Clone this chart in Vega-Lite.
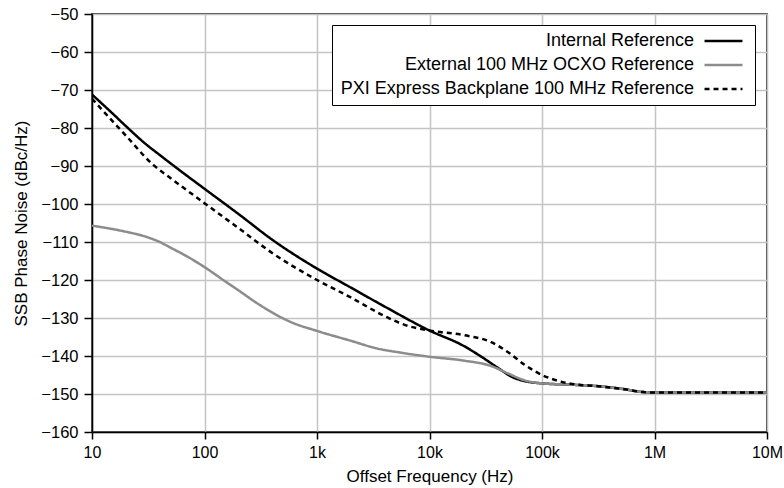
{
  "$schema": "https://vega.github.io/schema/vega-lite/v6.json",
  "autosize": "none",
  "width": 675,
  "height": 418,
  "padding": {"left": 92, "top": 14, "right": 17, "bottom": 56},
  "background": "white",
  "config": {
    "font": "Liberation Sans",
    "view": {"stroke": "black", "strokeWidth": 1.5},
    "axis": {
      "domainColor": "black",
      "domainWidth": 1.5,
      "tickColor": "black",
      "tickWidth": 1.5,
      "tickSize": 7,
      "gridColor": "#c4c4c4",
      "gridWidth": 1.5,
      "labelFont": "Liberation Sans",
      "labelFontSize": 16,
      "labelColor": "black",
      "titleFont": "Liberation Sans",
      "titleFontSize": 17,
      "titleFontWeight": "normal",
      "titleColor": "black"
    },
    "legend": {
      "labelFont": "Liberation Sans",
      "labelFontSize": 18,
      "labelColor": "black",
      "labelLimit": 500
    }
  },
  "data": {
    "values": [
      {"f": 10, "v": -71.2, "s": "Internal Reference"},
      {"f": 15, "v": -76.0, "s": "Internal Reference"},
      {"f": 20, "v": -79.5, "s": "Internal Reference"},
      {"f": 30, "v": -84.2, "s": "Internal Reference"},
      {"f": 40, "v": -87.1, "s": "Internal Reference"},
      {"f": 60, "v": -91.1, "s": "Internal Reference"},
      {"f": 100, "v": -96.0, "s": "Internal Reference"},
      {"f": 200, "v": -102.6, "s": "Internal Reference"},
      {"f": 400, "v": -109.4, "s": "Internal Reference"},
      {"f": 1000, "v": -117.0, "s": "Internal Reference"},
      {"f": 2000, "v": -122.0, "s": "Internal Reference"},
      {"f": 4000, "v": -127.0, "s": "Internal Reference"},
      {"f": 10000, "v": -133.3, "s": "Internal Reference"},
      {"f": 20000, "v": -137.3, "s": "Internal Reference"},
      {"f": 30000, "v": -140.5, "s": "Internal Reference"},
      {"f": 40000, "v": -143.0, "s": "Internal Reference"},
      {"f": 55000, "v": -145.6, "s": "Internal Reference"},
      {"f": 70000, "v": -146.6, "s": "Internal Reference"},
      {"f": 100000, "v": -147.2, "s": "Internal Reference"},
      {"f": 200000, "v": -147.6, "s": "Internal Reference"},
      {"f": 300000, "v": -147.9, "s": "Internal Reference"},
      {"f": 500000, "v": -148.6, "s": "Internal Reference"},
      {"f": 800000, "v": -149.5, "s": "Internal Reference"},
      {"f": 1000000, "v": -149.6, "s": "Internal Reference"},
      {"f": 10000000, "v": -149.6, "s": "Internal Reference"},
      {"f": 10, "v": -105.7, "s": "External 100 MHz OCXO Reference"},
      {"f": 20, "v": -107.3, "s": "External 100 MHz OCXO Reference"},
      {"f": 30, "v": -108.6, "s": "External 100 MHz OCXO Reference"},
      {"f": 40, "v": -110.0, "s": "External 100 MHz OCXO Reference"},
      {"f": 50, "v": -111.5, "s": "External 100 MHz OCXO Reference"},
      {"f": 70, "v": -113.8, "s": "External 100 MHz OCXO Reference"},
      {"f": 100, "v": -116.6, "s": "External 100 MHz OCXO Reference"},
      {"f": 150, "v": -120.2, "s": "External 100 MHz OCXO Reference"},
      {"f": 200, "v": -122.7, "s": "External 100 MHz OCXO Reference"},
      {"f": 300, "v": -126.3, "s": "External 100 MHz OCXO Reference"},
      {"f": 600, "v": -131.2, "s": "External 100 MHz OCXO Reference"},
      {"f": 1000, "v": -133.4, "s": "External 100 MHz OCXO Reference"},
      {"f": 2000, "v": -136.0, "s": "External 100 MHz OCXO Reference"},
      {"f": 3400, "v": -138.0, "s": "External 100 MHz OCXO Reference"},
      {"f": 5500, "v": -139.1, "s": "External 100 MHz OCXO Reference"},
      {"f": 10000, "v": -140.2, "s": "External 100 MHz OCXO Reference"},
      {"f": 20000, "v": -141.2, "s": "External 100 MHz OCXO Reference"},
      {"f": 35000, "v": -142.6, "s": "External 100 MHz OCXO Reference"},
      {"f": 50000, "v": -144.6, "s": "External 100 MHz OCXO Reference"},
      {"f": 70000, "v": -146.4, "s": "External 100 MHz OCXO Reference"},
      {"f": 100000, "v": -147.2, "s": "External 100 MHz OCXO Reference"},
      {"f": 200000, "v": -147.6, "s": "External 100 MHz OCXO Reference"},
      {"f": 300000, "v": -147.9, "s": "External 100 MHz OCXO Reference"},
      {"f": 500000, "v": -148.6, "s": "External 100 MHz OCXO Reference"},
      {"f": 800000, "v": -149.5, "s": "External 100 MHz OCXO Reference"},
      {"f": 1000000, "v": -149.6, "s": "External 100 MHz OCXO Reference"},
      {"f": 10000000, "v": -149.6, "s": "External 100 MHz OCXO Reference"},
      {"f": 10, "v": -72.3, "s": "PXI Express Backplane 100 MHz Reference"},
      {"f": 15, "v": -78.0, "s": "PXI Express Backplane 100 MHz Reference"},
      {"f": 20, "v": -82.0, "s": "PXI Express Backplane 100 MHz Reference"},
      {"f": 35, "v": -89.7, "s": "PXI Express Backplane 100 MHz Reference"},
      {"f": 50, "v": -93.2, "s": "PXI Express Backplane 100 MHz Reference"},
      {"f": 100, "v": -99.8, "s": "PXI Express Backplane 100 MHz Reference"},
      {"f": 200, "v": -106.3, "s": "PXI Express Backplane 100 MHz Reference"},
      {"f": 400, "v": -112.9, "s": "PXI Express Backplane 100 MHz Reference"},
      {"f": 1000, "v": -120.0, "s": "PXI Express Backplane 100 MHz Reference"},
      {"f": 2000, "v": -124.6, "s": "PXI Express Backplane 100 MHz Reference"},
      {"f": 4000, "v": -129.5, "s": "PXI Express Backplane 100 MHz Reference"},
      {"f": 6000, "v": -131.8, "s": "PXI Express Backplane 100 MHz Reference"},
      {"f": 10000, "v": -133.3, "s": "PXI Express Backplane 100 MHz Reference"},
      {"f": 20000, "v": -134.5, "s": "PXI Express Backplane 100 MHz Reference"},
      {"f": 35000, "v": -136.3, "s": "PXI Express Backplane 100 MHz Reference"},
      {"f": 50000, "v": -139.0, "s": "PXI Express Backplane 100 MHz Reference"},
      {"f": 70000, "v": -142.3, "s": "PXI Express Backplane 100 MHz Reference"},
      {"f": 100000, "v": -145.0, "s": "PXI Express Backplane 100 MHz Reference"},
      {"f": 150000, "v": -146.8, "s": "PXI Express Backplane 100 MHz Reference"},
      {"f": 200000, "v": -147.5, "s": "PXI Express Backplane 100 MHz Reference"},
      {"f": 300000, "v": -147.9, "s": "PXI Express Backplane 100 MHz Reference"},
      {"f": 500000, "v": -148.6, "s": "PXI Express Backplane 100 MHz Reference"},
      {"f": 800000, "v": -149.5, "s": "PXI Express Backplane 100 MHz Reference"},
      {"f": 1000000, "v": -149.6, "s": "PXI Express Backplane 100 MHz Reference"},
      {"f": 10000000, "v": -149.6, "s": "PXI Express Backplane 100 MHz Reference"}
    ]
  },
  "mark": {"type": "line", "interpolate": "monotone", "strokeWidth": 2.5, "clip": true},
  "encoding": {
    "x": {
      "field": "f",
      "type": "quantitative",
      "scale": {"type": "log", "domain": [10, 10000000], "nice": false},
      "axis": {
        "title": "Offset Frequency (Hz)",
        "values": [10, 100, 1000, 10000, 100000, 1000000, 10000000],
        "labelExpr": "datum.value >= 1000000 ? (datum.value / 1000000) + 'M' : (datum.value >= 1000 ? (datum.value / 1000) + 'k' : datum.value + '')",
        "labelPadding": 5,
        "titlePadding": 8,
        "labelFlush": false
      }
    },
    "y": {
      "field": "v",
      "type": "quantitative",
      "scale": {"domain": [-160, -50], "nice": false, "zero": false},
      "axis": {
        "title": "SSB Phase Noise (dBc/Hz)",
        "values": [-160, -150, -140, -130, -120, -110, -100, -90, -80, -70, -60, -50],
        "tickSize": 8,
        "labelPadding": 6,
        "titlePadding": 10,
        "labelFontSize": 16.5,
        "labelFlush": false
      }
    },
    "color": {
      "field": "s",
      "type": "nominal",
      "scale": {
        "domain": ["Internal Reference", "External 100 MHz OCXO Reference", "PXI Express Backplane 100 MHz Reference"],
        "range": ["black", "#8c8c8c", "black"]
      },
      "legend": {
        "title": null,
        "orient": "none",
        "legendX": 240,
        "legendY": 11,
        "padding": 7,
        "strokeColor": "black",
        "fillColor": "white",
        "symbolType": "M-3,0H3",
        "symbolSize": 160,
        "symbolStrokeWidth": 2.5,
        "labelAlign": "right",
        "labelOffset": -38.5,
        "symbolOffset": 375.5,
        "rowPadding": 6
      }
    },
    "strokeDash": {
      "field": "s",
      "type": "nominal",
      "scale": {
        "domain": ["Internal Reference", "External 100 MHz OCXO Reference", "PXI Express Backplane 100 MHz Reference"],
        "range": [[1, 0], [1, 0], [5, 4]]
      },
      "legend": {
        "title": null,
        "orient": "none",
        "legendX": 240,
        "legendY": 11,
        "padding": 7,
        "strokeColor": "black",
        "fillColor": "white",
        "symbolType": "M-3,0H3",
        "symbolSize": 160,
        "symbolStrokeWidth": 2.5,
        "labelAlign": "right",
        "labelOffset": -38.5,
        "symbolOffset": 375.5,
        "rowPadding": 6
      }
    }
  }
}
